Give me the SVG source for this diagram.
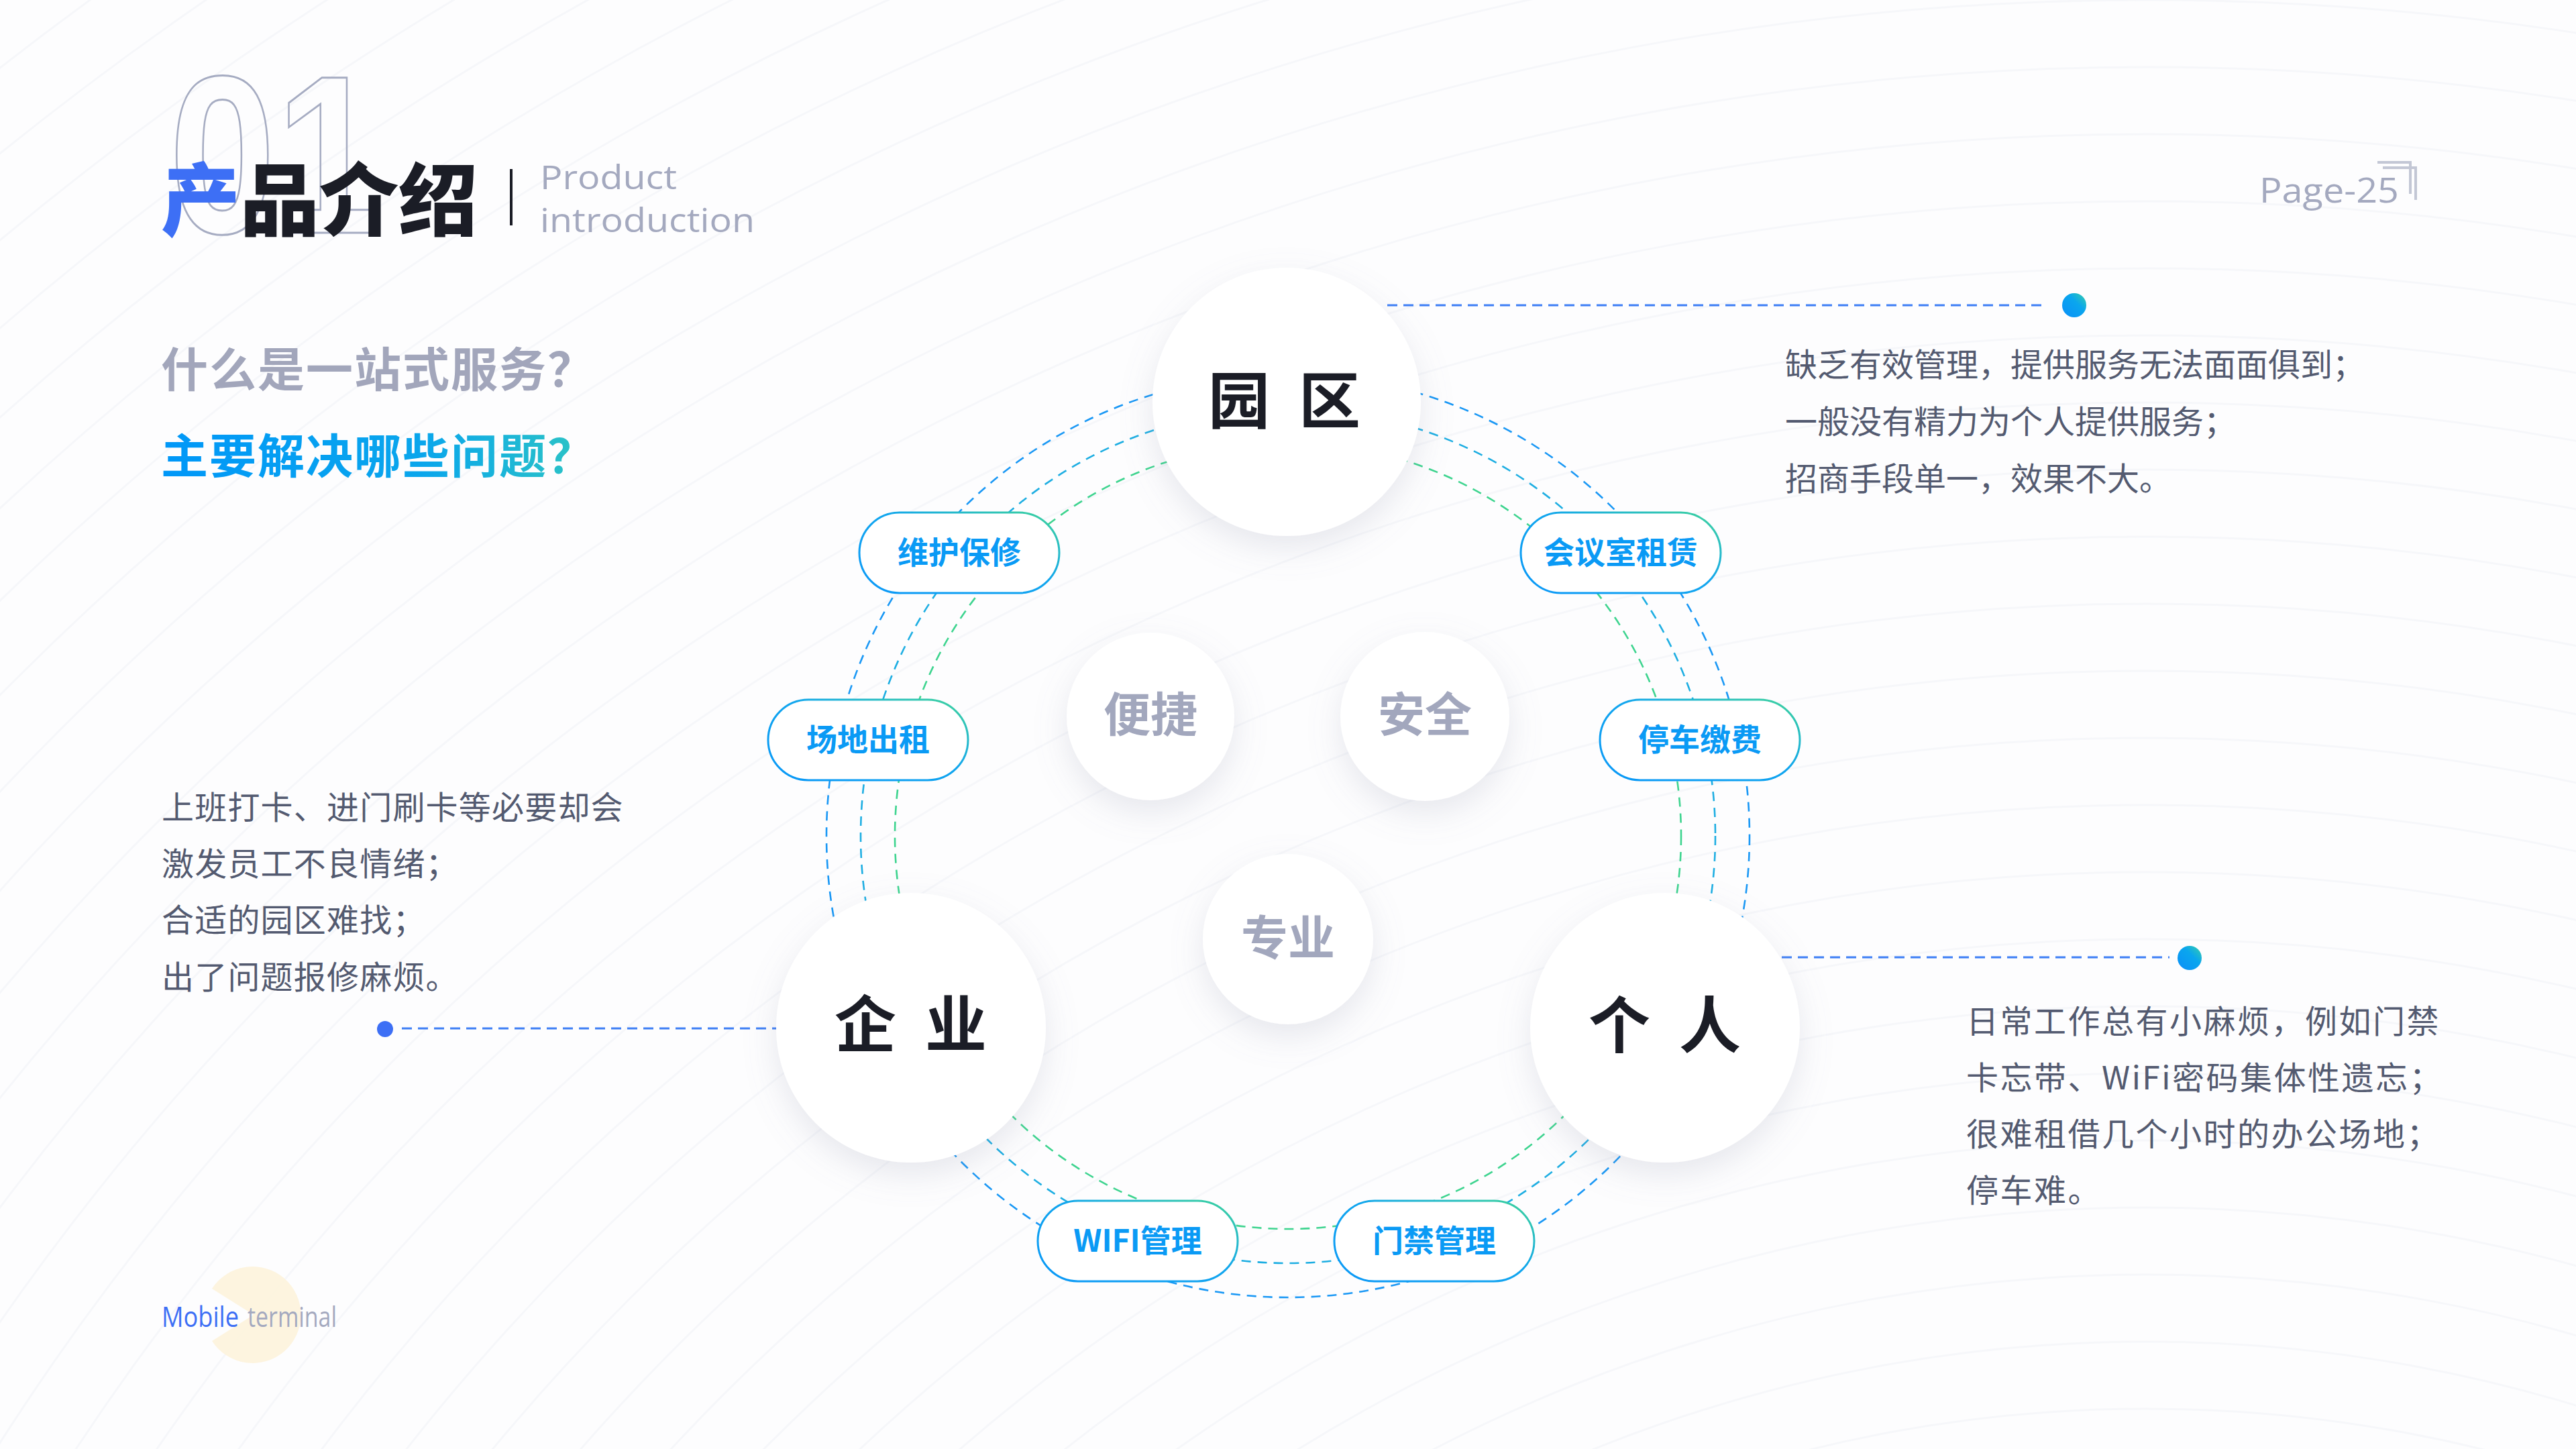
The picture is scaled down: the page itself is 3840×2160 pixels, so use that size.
<svg xmlns="http://www.w3.org/2000/svg" width="3840" height="2160" viewBox="0 0 3840 2160">
  <defs>
    <style>
      .cjk { font-family: "Noto Sans CJK SC", "Noto Sans", sans-serif; }
      .lat { font-family: "Open Sans", "Noto Sans", sans-serif; }
      .desc { font-family: "Noto Sans CJK SC", sans-serif; font-size: 48px; fill: #535a70; font-weight: 400; }
      .big { font-family: "Noto Sans CJK SC", sans-serif; font-size: 92px; fill: #1b1d26; font-weight: 700; text-anchor: middle; }
      .mid { font-family: "Noto Sans CJK SC", sans-serif; font-size: 70px; fill: #a2a7bd; font-weight: 700; text-anchor: middle; }
      .pilltxt { font-family: "Noto Sans CJK SC", sans-serif; font-size: 46px; fill: #0a9af5; font-weight: 700; text-anchor: middle; }
      .pill { fill: #ffffff; stroke: url(#pillGrad); stroke-width: 3; }
      .node { fill: #ffffff; filter: url(#shadow); }
      .ring { fill: none; stroke-width: 2.6; stroke-dasharray: 14 10; }
      .link { fill: none; stroke: #3d7ef5; stroke-width: 3; stroke-dasharray: 15 9; }
      .bgl { fill: none; stroke: #f6f7fa; stroke-width: 3; }
    </style>
    <linearGradient id="pillGrad" x1="0" y1="1" x2="1" y2="0">
      <stop offset="0" stop-color="#0a98f7"/>
      <stop offset="0.55" stop-color="#12a6ee"/>
      <stop offset="1" stop-color="#3fd49a"/>
    </linearGradient>
    <linearGradient id="qGrad" x1="0" y1="0" x2="1" y2="0">
      <stop offset="0" stop-color="#0097f8"/>
      <stop offset="0.6" stop-color="#0aa6ec"/>
      <stop offset="1" stop-color="#2fc6c2"/>
    </linearGradient>
    <linearGradient id="dotGrad" x1="0" y1="1" x2="1" y2="0">
      <stop offset="0" stop-color="#0a8ff8"/>
      <stop offset="0.6" stop-color="#0aa6ee"/>
      <stop offset="1" stop-color="#38cfa8"/>
    </linearGradient>
    <filter id="shadow" x="-40%" y="-40%" width="180%" height="180%">
      <feDropShadow dx="0" dy="18" stdDeviation="24" flood-color="#8a90a8" flood-opacity="0.2"/>
    </filter>
  </defs>

  <!-- background -->
  <rect x="0" y="0" width="3840" height="2160" fill="#fdfdfe"/>
  <g id="background-lines">
    <circle class="bgl" cx="3200" cy="4200" r="2100"/>
    <circle class="bgl" cx="3200" cy="4200" r="2200"/>
    <circle class="bgl" cx="3200" cy="4200" r="2300"/>
    <circle class="bgl" cx="3200" cy="4200" r="2400"/>
    <circle class="bgl" cx="3200" cy="4200" r="2500"/>
    <circle class="bgl" cx="3200" cy="4200" r="2600"/>
    <circle class="bgl" cx="3200" cy="4200" r="2700"/>
    <circle class="bgl" cx="3200" cy="4200" r="2800"/>
    <circle class="bgl" cx="3200" cy="4200" r="2900"/>
    <circle class="bgl" cx="3200" cy="4200" r="3000"/>
    <circle class="bgl" cx="3200" cy="4200" r="3100"/>
    <circle class="bgl" cx="3200" cy="4200" r="3200"/>
    <circle class="bgl" cx="3200" cy="4200" r="3300"/>
    <circle class="bgl" cx="3200" cy="4200" r="3400"/>
    <circle class="bgl" cx="3200" cy="4200" r="3500"/>
    <circle class="bgl" cx="3200" cy="4200" r="3600"/>
    <circle class="bgl" cx="3200" cy="4200" r="3700"/>
    <circle class="bgl" cx="3200" cy="4200" r="3800"/>
    <circle class="bgl" cx="3200" cy="4200" r="3900"/>
    <circle class="bgl" cx="3200" cy="4200" r="4000"/>
    <circle class="bgl" cx="3200" cy="4200" r="4100"/>
    <circle class="bgl" cx="3200" cy="4200" r="4200"/>
    <circle class="bgl" cx="3200" cy="4200" r="4300"/>
    <circle class="bgl" cx="3200" cy="4200" r="4400"/>
    <circle class="bgl" cx="3200" cy="4200" r="4500"/>
    <circle class="bgl" cx="3200" cy="4200" r="4600"/>
    <circle class="bgl" cx="3200" cy="4200" r="4700"/>
    <circle class="bgl" cx="3200" cy="4200" r="4800"/>
    <circle class="bgl" cx="3200" cy="4200" r="4900"/>
    <circle class="bgl" cx="3200" cy="4200" r="5000"/>
    <circle class="bgl" cx="3200" cy="4200" r="5100"/>
    <circle class="bgl" cx="3200" cy="4200" r="5200"/>
    <circle class="bgl" cx="3200" cy="4200" r="5300"/>
  </g>

  <!-- header -->
  <g id="header">
    <text x="252" y="347" font-family="'Liberation Sans', Arial, sans-serif" font-size="336" font-weight="700" fill="none" stroke="#a6acc2" stroke-width="3" textLength="318" lengthAdjust="spacingAndGlyphs">01</text>
    <text x="240" y="342" class="cjk" font-size="118" font-weight="900" fill="#1b1d26"><tspan fill="#3d6ff5">产</tspan>品介绍</text>
    <rect x="760" y="252" width="4" height="84" fill="#1b1d26"/>
    <text x="805" y="282" class="lat" font-size="50" fill="#a4a9bf" textLength="204" lengthAdjust="spacingAndGlyphs">Product</text>
    <text x="805" y="346" class="lat" font-size="50" fill="#a4a9bf" textLength="320" lengthAdjust="spacingAndGlyphs">introduction</text>
    <text x="3368" y="302" class="lat" font-size="52" fill="#a4a9bf" textLength="208" lengthAdjust="spacingAndGlyphs">Page-25</text>
    <polyline points="3544,242 3593,242 3593,289" fill="none" stroke="#c3c7d5" stroke-width="4"/>
    <polyline points="3552,250 3601,250 3601,298" fill="none" stroke="#c3c7d5" stroke-width="4"/>
  </g>

  <!-- questions -->
  <g id="questions">
    <text x="240" y="577" class="cjk" font-size="70" font-weight="700" fill="#a2a6bb" letter-spacing="2">什么是一站式服务？</text>
    <text x="240" y="706" class="cjk" font-size="70" font-weight="700" fill="url(#qGrad)" letter-spacing="2">主要解决哪些问题？</text>
  </g>

  <!-- connectors -->
  <g id="connectors">
    <circle class="ring" cx="1920" cy="1246" r="688" stroke="#1a98f5"/>
    <circle class="ring" cx="1920" cy="1246" r="637" stroke="#1eaee2"/>
    <circle class="ring" cx="1920" cy="1246" r="586" stroke="#3ed48f"/>
    <line class="link" x1="2068" y1="455" x2="3052" y2="455"/>
    <circle cx="3092" cy="455" r="18" fill="url(#dotGrad)"/>
    <line class="link" x1="2656" y1="1427" x2="3234" y2="1427"/>
    <circle cx="3264" cy="1428" r="18" fill="url(#dotGrad)"/>
    <line class="link" x1="599" y1="1533" x2="1157" y2="1533"/>
    <circle cx="574" cy="1534" r="12" fill="#3d6ff5"/>
  </g>

  <!-- main nodes -->
  <g id="node-yuanqu">
    <circle class="node" cx="1918" cy="599" r="200"/>
    <text class="big" x="1920" y="631" letter-spacing="11">园 区</text>
  </g>
  <g id="node-qiye">
    <circle class="node" cx="1358" cy="1532" r="201"/>
    <text class="big" x="1363" y="1561" letter-spacing="11">企 业</text>
  </g>
  <g id="node-geren">
    <circle class="node" cx="2482" cy="1532" r="201"/>
    <text class="big" x="2487" y="1562" letter-spacing="11">个 人</text>
  </g>
  <g id="node-bianjie">
    <circle class="node" cx="1715" cy="1068" r="125"/>
    <text class="mid" x="1715" y="1091">便捷</text>
  </g>
  <g id="node-anquan">
    <circle class="node" cx="2124" cy="1068" r="126"/>
    <text class="mid" x="2124" y="1091">安全</text>
  </g>
  <g id="node-zhuanye">
    <circle class="node" cx="1920" cy="1400" r="127"/>
    <text class="mid" x="1920" y="1424">专业</text>
  </g>

  <!-- pills -->
  <g id="pill-weihu">
    <rect class="pill" x="1281" y="764" width="298" height="120" rx="60"/>
    <text class="pilltxt" x="1430" y="840">维护保修</text>
  </g>
  <g id="pill-huiyishi">
    <rect class="pill" x="2267" y="764" width="298" height="120" rx="60"/>
    <text class="pilltxt" x="2416" y="840">会议室租赁</text>
  </g>
  <g id="pill-changdi">
    <rect class="pill" x="1145" y="1043" width="298" height="120" rx="60"/>
    <text class="pilltxt" x="1294" y="1119">场地出租</text>
  </g>
  <g id="pill-tingche">
    <rect class="pill" x="2385" y="1043" width="298" height="120" rx="60"/>
    <text class="pilltxt" x="2534" y="1119">停车缴费</text>
  </g>
  <g id="pill-wifi">
    <rect class="pill" x="1547" y="1790" width="298" height="120" rx="60"/>
    <text class="pilltxt" x="1696" y="1866">WIFI管理</text>
  </g>
  <g id="pill-menjin">
    <rect class="pill" x="1989" y="1790" width="298" height="120" rx="60"/>
    <text class="pilltxt" x="2138" y="1866">门禁管理</text>
  </g>

  <!-- description texts -->
  <g id="desc-yuanqu">
    <text class="desc" x="2661" y="561">缺乏有效管理，提供服务无法面面俱到；</text>
    <text class="desc" x="2661" y="646">一般没有精力为个人提供服务；</text>
    <text class="desc" x="2661" y="731">招商手段单一，效果不大。</text>
  </g>
  <g id="desc-qiye">
    <text class="desc" x="241" y="1221" letter-spacing="1.2">上班打卡、进门刷卡等必要却会</text>
    <text class="desc" x="241" y="1305" letter-spacing="1.2">激发员工不良情绪；</text>
    <text class="desc" x="241" y="1389" letter-spacing="1.2">合适的园区难找；</text>
    <text class="desc" x="241" y="1474" letter-spacing="1.2">出了问题报修麻烦。</text>
  </g>
  <g id="desc-geren">
    <text class="desc" x="2931" y="1540" letter-spacing="2.5">日常工作总有小麻烦，例如门禁</text>
    <text class="desc" x="2931" y="1624" letter-spacing="2.5">卡忘带、WiFi密码集体性遗忘；</text>
    <text class="desc" x="2931" y="1708" letter-spacing="2.5">很难租借几个小时的办公场地；</text>
    <text class="desc" x="2931" y="1792" letter-spacing="2.5">停车难。</text>
  </g>

  <!-- footer -->
  <g id="footer">
    <path d="M378,1960 L316,1921 A72,72 0 1 1 316,1999 Z" fill="#fdf3dc" opacity="0.9"/>
    <text x="241" y="1978" class="lat" font-size="42" fill="#3d6ff5" textLength="115" lengthAdjust="spacingAndGlyphs">Mobile</text>
    <text x="369" y="1978" class="lat" font-size="42" fill="#a4a9bf" textLength="133" lengthAdjust="spacingAndGlyphs">terminal</text>
  </g>
</svg>
